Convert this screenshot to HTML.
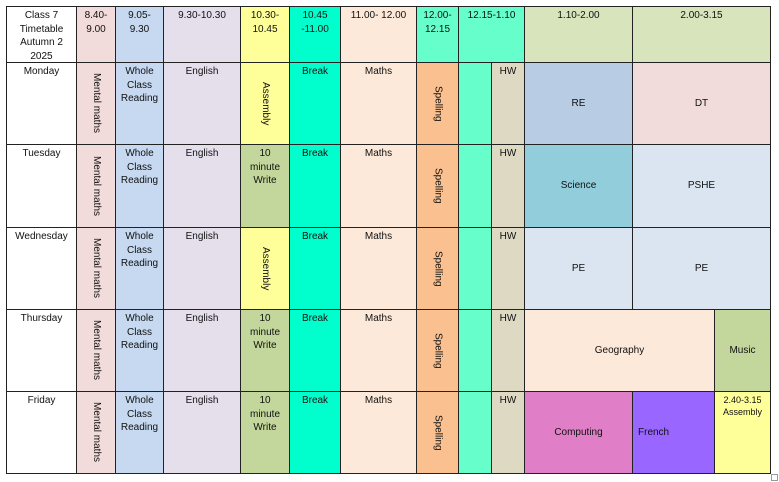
<!DOCTYPE html>
<html><head><style>
body{margin:0;background:#fff;width:779px;height:482px;position:relative;overflow:hidden;font-family:"Liberation Sans",sans-serif;}
.c{position:absolute;box-sizing:border-box;border:1px solid #222;text-align:center;font-size:10px;line-height:13.5px;padding-top:2px;color:#111;}
.v{writing-mode:vertical-rl;display:flex;align-items:center;justify-content:center;padding:0;}
.m{display:flex;align-items:center;justify-content:center;padding:0;}
</style></head><body>
<!-- header -->
<div class="c" style="left:6px;top:6px;width:71px;height:57px;background:#fff">Class 7<br>Timetable<br>Autumn 2<br>2025</div>
<div class="c" style="left:76px;top:6px;width:40px;height:57px;background:#f2dcdb">8.40-<br>9.00</div>
<div class="c" style="left:115px;top:6px;width:49px;height:57px;background:#c6d9f0">9.05-<br>9.30</div>
<div class="c" style="left:163px;top:6px;width:78px;height:57px;background:#e5dfec">9.30-10.30</div>
<div class="c" style="left:240px;top:6px;width:50px;height:57px;background:#ffff99">10.30-<br>10.45</div>
<div class="c" style="left:289px;top:6px;width:52px;height:57px;background:#00ffcc">10.45<br>-11.00</div>
<div class="c" style="left:340px;top:6px;width:77px;height:57px;background:#fde9d9">11.00- 12.00</div>
<div class="c" style="left:416px;top:6px;width:43px;height:57px;background:#66ffcc">12.00-<br>12.15</div>
<div class="c" style="left:458px;top:6px;width:67px;height:57px;background:#66ffcc">12.15-1.10</div>
<div class="c" style="left:524px;top:6px;width:109px;height:57px;background:#d7e4bc">1.10-2.00</div>
<div class="c" style="left:632px;top:6px;width:139px;height:57px;background:#d7e4bc">2.00-3.15</div>

<!-- Monday -->
<div class="c" style="left:6px;top:62px;width:71px;height:83px;background:#fff">Monday</div>
<div class="c v" style="left:76px;top:62px;width:40px;height:83px;background:#f2dcdb">Mental maths</div>
<div class="c" style="left:115px;top:62px;width:49px;height:83px;background:#c6d9f0">Whole<br>Class<br>Reading</div>
<div class="c" style="left:163px;top:62px;width:78px;height:83px;background:#e5dfec">English</div>
<div class="c v" style="left:240px;top:62px;width:50px;height:83px;background:#ffff99">Assembly</div>
<div class="c" style="left:289px;top:62px;width:52px;height:83px;background:#00ffcc">Break</div>
<div class="c" style="left:340px;top:62px;width:77px;height:83px;background:#fde9d9">Maths</div>
<div class="c v" style="left:416px;top:62px;width:43px;height:83px;background:#fac090">Spelling</div>
<div class="c" style="left:458px;top:62px;width:34px;height:83px;background:#66ffcc"></div>
<div class="c" style="left:491px;top:62px;width:34px;height:83px;background:#ddd9c3">HW</div>
<div class="c m" style="left:524px;top:62px;width:109px;height:83px;background:#b8cce4">RE</div>
<div class="c m" style="left:632px;top:62px;width:139px;height:83px;background:#f2dcdb">DT</div>

<!-- Tuesday -->
<div class="c" style="left:6px;top:144px;width:71px;height:84px;background:#fff">Tuesday</div>
<div class="c v" style="left:76px;top:144px;width:40px;height:84px;background:#f2dcdb">Mental maths</div>
<div class="c" style="left:115px;top:144px;width:49px;height:84px;background:#c6d9f0">Whole<br>Class<br>Reading</div>
<div class="c" style="left:163px;top:144px;width:78px;height:84px;background:#e5dfec">English</div>
<div class="c" style="left:240px;top:144px;width:50px;height:84px;background:#c3d69b">10<br>minute<br>Write</div>
<div class="c" style="left:289px;top:144px;width:52px;height:84px;background:#00ffcc">Break</div>
<div class="c" style="left:340px;top:144px;width:77px;height:84px;background:#fde9d9">Maths</div>
<div class="c v" style="left:416px;top:144px;width:43px;height:84px;background:#fac090">Spelling</div>
<div class="c" style="left:458px;top:144px;width:34px;height:84px;background:#66ffcc"></div>
<div class="c" style="left:491px;top:144px;width:34px;height:84px;background:#ddd9c3">HW</div>
<div class="c m" style="left:524px;top:144px;width:109px;height:84px;background:#92cddc">Science</div>
<div class="c m" style="left:632px;top:144px;width:139px;height:84px;background:#dbe5f1">PSHE</div>

<!-- Wednesday -->
<div class="c" style="left:6px;top:227px;width:71px;height:83px;background:#fff">Wednesday</div>
<div class="c v" style="left:76px;top:227px;width:40px;height:83px;background:#f2dcdb">Mental maths</div>
<div class="c" style="left:115px;top:227px;width:49px;height:83px;background:#c6d9f0">Whole<br>Class<br>Reading</div>
<div class="c" style="left:163px;top:227px;width:78px;height:83px;background:#e5dfec">English</div>
<div class="c v" style="left:240px;top:227px;width:50px;height:83px;background:#ffff99">Assembly</div>
<div class="c" style="left:289px;top:227px;width:52px;height:83px;background:#00ffcc">Break</div>
<div class="c" style="left:340px;top:227px;width:77px;height:83px;background:#fde9d9">Maths</div>
<div class="c v" style="left:416px;top:227px;width:43px;height:83px;background:#fac090">Spelling</div>
<div class="c" style="left:458px;top:227px;width:34px;height:83px;background:#66ffcc"></div>
<div class="c" style="left:491px;top:227px;width:34px;height:83px;background:#ddd9c3">HW</div>
<div class="c m" style="left:524px;top:227px;width:109px;height:83px;background:#dbe5f1">PE</div>
<div class="c m" style="left:632px;top:227px;width:139px;height:83px;background:#dbe5f1">PE</div>

<!-- Thursday -->
<div class="c" style="left:6px;top:309px;width:71px;height:83px;background:#fff">Thursday</div>
<div class="c v" style="left:76px;top:309px;width:40px;height:83px;background:#f2dcdb">Mental maths</div>
<div class="c" style="left:115px;top:309px;width:49px;height:83px;background:#c6d9f0">Whole<br>Class<br>Reading</div>
<div class="c" style="left:163px;top:309px;width:78px;height:83px;background:#e5dfec">English</div>
<div class="c" style="left:240px;top:309px;width:50px;height:83px;background:#c3d69b">10<br>minute<br>Write</div>
<div class="c" style="left:289px;top:309px;width:52px;height:83px;background:#00ffcc">Break</div>
<div class="c" style="left:340px;top:309px;width:77px;height:83px;background:#fde9d9">Maths</div>
<div class="c v" style="left:416px;top:309px;width:43px;height:83px;background:#fac090">Spelling</div>
<div class="c" style="left:458px;top:309px;width:34px;height:83px;background:#66ffcc"></div>
<div class="c" style="left:491px;top:309px;width:34px;height:83px;background:#ddd9c3">HW</div>
<div class="c m" style="left:524px;top:309px;width:191px;height:83px;background:#fde9d9">Geography</div>
<div class="c m" style="left:714px;top:309px;width:57px;height:83px;background:#c3d69b">Music</div>

<!-- Friday -->
<div class="c" style="left:6px;top:391px;width:71px;height:83px;background:#fff">Friday</div>
<div class="c v" style="left:76px;top:391px;width:40px;height:83px;background:#f2dcdb">Mental maths</div>
<div class="c" style="left:115px;top:391px;width:49px;height:83px;background:#c6d9f0">Whole<br>Class<br>Reading</div>
<div class="c" style="left:163px;top:391px;width:78px;height:83px;background:#e5dfec">English</div>
<div class="c" style="left:240px;top:391px;width:50px;height:83px;background:#c3d69b">10<br>minute<br>Write</div>
<div class="c" style="left:289px;top:391px;width:52px;height:83px;background:#00ffcc">Break</div>
<div class="c" style="left:340px;top:391px;width:77px;height:83px;background:#fde9d9">Maths</div>
<div class="c v" style="left:416px;top:391px;width:43px;height:83px;background:#fac090">Spelling</div>
<div class="c" style="left:458px;top:391px;width:34px;height:83px;background:#66ffcc"></div>
<div class="c" style="left:491px;top:391px;width:34px;height:83px;background:#ddd9c3">HW</div>
<div class="c m" style="left:524px;top:391px;width:109px;height:83px;background:#e07ec8">Computing</div>
<div class="c m" style="left:632px;top:391px;width:83px;height:83px;background:#9966ff;justify-content:flex-start;padding-left:5px">French</div>
<div class="c" style="left:714px;top:391px;width:57px;height:83px;background:#ffff99;font-size:9px;line-height:12px">2.40-3.15<br>Assembly</div>

<div style="position:absolute;left:771px;top:474px;width:7px;height:7px;border:1px solid #999;box-sizing:border-box"></div>
</body></html>
